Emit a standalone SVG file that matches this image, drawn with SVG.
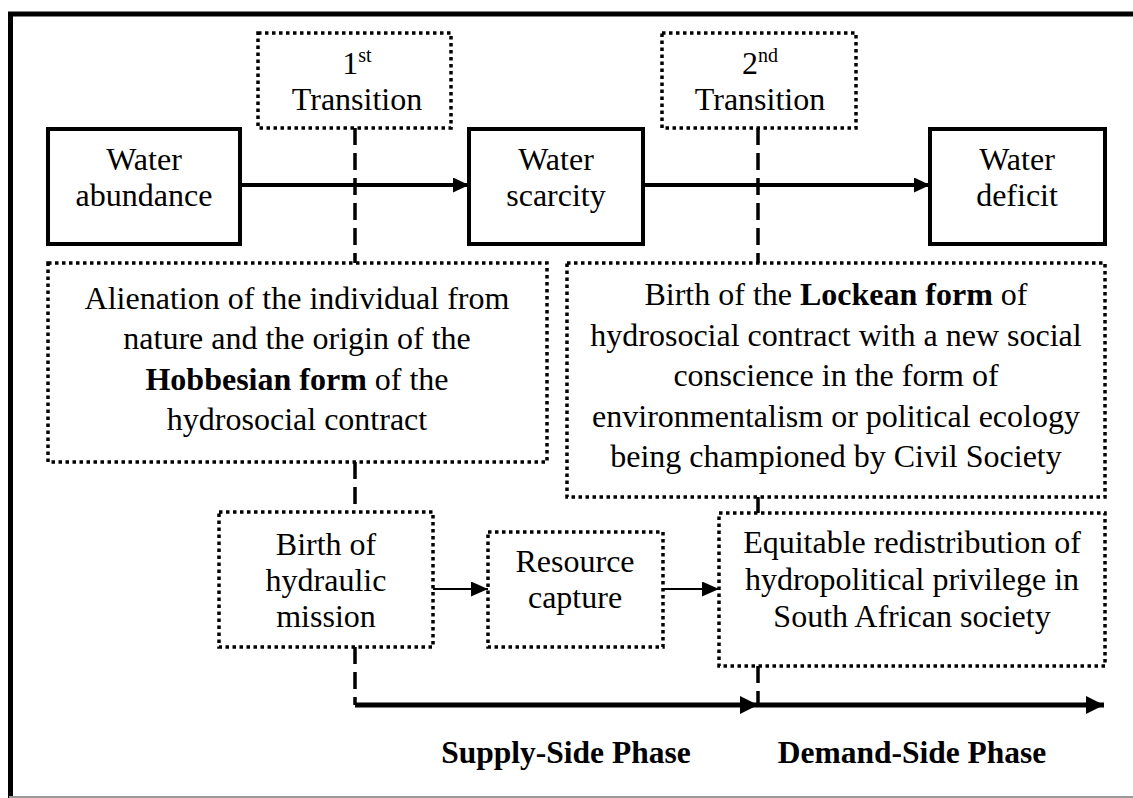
<svg xmlns="http://www.w3.org/2000/svg" width="1133" height="798" viewBox="0 0 1133 798" font-family="'Liberation Serif', 'DejaVu Serif', serif">
<style>
text{font-family:'Liberation Serif','DejaVu Serif',serif;font-size:32px;fill:#000;text-anchor:middle}
.b{font-weight:bold}
.ph{font-weight:bold;font-size:31.5px}
.solid{fill:#fff;stroke:#000;stroke-width:4}
.dot{fill:#fff;stroke:#000;stroke-width:3.5;stroke-dasharray:3.5 3.5}
.dash{fill:none;stroke:#000;stroke-width:3.5;stroke-dasharray:17 8}
.arr{fill:none;stroke:#000;stroke-width:4}
.thin{fill:none;stroke:#000;stroke-width:2}
.thick{fill:none;stroke:#000;stroke-width:5}
</style>
<defs>
<marker id="ah" markerUnits="userSpaceOnUse" markerWidth="16" markerHeight="15" refX="16" refY="7.5" orient="auto"><path d="M0,0 L16,7.5 L0,15 Z" fill="#000"/></marker>
<marker id="ahs" markerUnits="userSpaceOnUse" markerWidth="17" markerHeight="15" refX="17" refY="7.5" orient="auto"><path d="M0,0 L17,7.5 L0,15 Z" fill="#000"/></marker>
<marker id="ahb" markerUnits="userSpaceOnUse" markerWidth="18" markerHeight="18" refX="18" refY="9" orient="auto"><path d="M0,0 L18,9 L0,18 Z" fill="#000"/></marker>
</defs>
<rect width="1133" height="798" fill="#fff"/>
<g id="frame">
<path d="M10.5,798 V14 H1133" fill="none" stroke="#000" stroke-width="5"/>
<line x1="9" y1="797" x2="1133" y2="797" stroke="#999" stroke-width="2"/>
</g>
<g id="connectors">
<line class="dash" x1="355" y1="128" x2="355" y2="263"/>
<line class="dash" x1="355" y1="462" x2="355" y2="512"/>
<line class="dash" x1="355" y1="647" x2="355" y2="705"/>
<line class="dash" x1="758" y1="128" x2="758" y2="263"/>
<line class="dash" x1="758" y1="497" x2="758" y2="513"/>
<line class="dash" x1="758" y1="666" x2="758" y2="705"/>
<line class="arr" x1="240" y1="185" x2="469" y2="185" marker-end="url(#ah)"/>
<line class="arr" x1="643" y1="185" x2="930" y2="185" marker-end="url(#ah)"/>
<line class="thin" x1="433" y1="589" x2="488" y2="589" marker-end="url(#ahs)"/>
<line class="thin" x1="663" y1="589" x2="719" y2="589" marker-end="url(#ahs)"/>
<line class="thick" x1="355" y1="705" x2="758" y2="705" marker-end="url(#ahb)"/>
<line class="thick" x1="758" y1="705" x2="1104" y2="705" marker-end="url(#ahb)"/>
</g>
<g id="t1">
<rect class="dot" x="258" y="33" width="193" height="95"/>
<text x="357" y="74">1<tspan font-size="20" dy="-12">st</tspan></text>
<text x="357" y="110">Transition</text>
</g>
<g id="t2">
<rect class="dot" x="662" y="33" width="194" height="95"/>
<text x="760" y="74">2<tspan font-size="20" dy="-12">nd</tspan></text>
<text x="760" y="110">Transition</text>
</g>
<g id="abundance">
<rect class="solid" x="48" y="129" width="192" height="115"/>
<text x="144" y="170">Water</text>
<text x="144" y="206">abundance</text>
</g>
<g id="scarcity">
<rect class="solid" x="469" y="129" width="174" height="115"/>
<text x="556" y="170">Water</text>
<text x="556" y="206">scarcity</text>
</g>
<g id="deficit">
<rect class="solid" x="930" y="129" width="175" height="115"/>
<text x="1017" y="170">Water</text>
<text x="1017" y="206">deficit</text>
</g>
<g id="alienation">
<rect class="dot" x="48" y="263" width="499" height="199"/>
<text x="297" y="309">Alienation of the individual from</text>
<text x="297" y="349">nature and the origin of the</text>
<text x="297" y="390"><tspan class="b">Hobbesian form</tspan> of the</text>
<text x="297" y="430">hydrosocial contract</text>
</g>
<g id="lockean">
<rect class="dot" x="567" y="263" width="538" height="234"/>
<text x="836" y="305">Birth of the <tspan class="b">Lockean form</tspan> of</text>
<text x="836" y="346">hydrosocial contract with a new social</text>
<text x="836" y="386">conscience in the form of</text>
<text x="836" y="427">environmentalism or political ecology</text>
<text x="836" y="467">being championed by Civil Society</text>
</g>
<g id="hydraulic">
<rect class="dot" x="219" y="512" width="214" height="135"/>
<text x="326" y="555">Birth of</text>
<text x="326" y="591">hydraulic</text>
<text x="326" y="627">mission</text>
</g>
<g id="capture">
<rect class="dot" x="488" y="532" width="175" height="115"/>
<text x="575" y="572">Resource</text>
<text x="575" y="608">capture</text>
</g>
<g id="equitable">
<rect class="dot" x="719" y="513" width="386" height="153"/>
<text x="912" y="553">Equitable redistribution of</text>
<text x="912" y="590">hydropolitical privilege in</text>
<text x="912" y="627">South African society</text>
</g>
<g id="phases">
<text class="ph" x="566" y="763">Supply-Side Phase</text>
<text class="ph" x="912" y="763">Demand-Side Phase</text>
</g>
</svg>
